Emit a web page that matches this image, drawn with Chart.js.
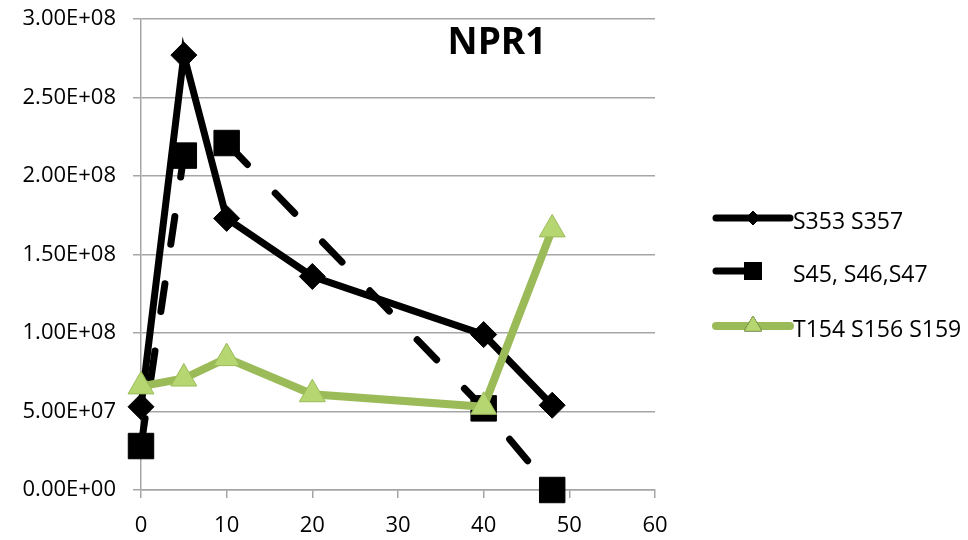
<!DOCTYPE html>
<html>
<head>
<meta charset="utf-8">
<script src="https://cdn.jsdelivr.net/npm/chart.js@4/dist/chart.umd.min.js"></script>
<style>
  html, body { margin: 0; padding: 0; background: #fff; }
  #wrap { width: 968px; height: 540px; }
</style>
</head>
<body>
<div id="wrap"><canvas id="nprCanvas" width="968" height="540"></canvas></div>
<script>
/* NPR1 - three phospho-site series over time */

const timesA = [0, 5, 10, 20, 40, 48];
const timesB = [0, 5, 10, 40, 48];
const timesC = [0, 5, 10, 20, 40, 48];

const s353 = [53e6, 277e6, 173e6, 136e6, 99e6, 54e6];
const s45 = [28e6, 213e6, 221e6, 52e6, 0];
const t154 = [66e6, 71e6, 84e6, 61e6, 53e6, 166e6];

const seriesNames = ['S353 S357', 'S45, S46,S47', 'T154 S156 S159'];
const chartTitle = 'NPR1';

const FONT = '"Open Sans", Lato, sans-serif';
const GRID = '#a6a6a6';
const GREEN = '#9bbb59';
const GREEN_FILL = '#b6d672';

const toPts = (xs, ys) => xs.map((x, i) => ({x: x, y: ys[i]}));

// Excel style exponent label, e.g. 3.00E+08
function sciLabel(v) {
  const parts = Number(v).toExponential(2).split('e');
  let exp = parseInt(parts[1], 10);
  const sign = exp < 0 ? '-' : '+';
  exp = Math.abs(exp);
  return parts[0] + 'E' + sign + (exp < 10 ? '0' + exp : exp);
}

/* title inside plot + legend on the right */
const decorPlugin = {
  id: 'decor',
  afterDraw(chart) {
    const ctx = chart.ctx;
    const area = chart.chartArea;
    ctx.save();
    ctx.fillStyle = '#000';
    ctx.font = 'bold 37px ' + FONT;
    ctx.textAlign = 'center';
    ctx.textBaseline = 'middle';
    ctx.fillText(chartTitle, area.left + 356, area.top + 24);

    const lx = area.right + 61;
    const rows = [area.top + 203, area.top + 256, area.top + 311];
    ctx.font = '23px ' + FONT;
    ctx.textAlign = 'left';
    chart.data.datasets.forEach((ds, i) => {
      const y = rows[i];
      const dashed = !!ds.borderDash;
      ctx.save();
      ctx.strokeStyle = ds.borderColor;
      ctx.lineWidth = ds.borderWidth;
      ctx.lineCap = 'round';
      ctx.beginPath();
      ctx.moveTo(lx, y - 4);
      ctx.lineTo(dashed ? lx + 30 : lx + 74, y - 4);
      ctx.stroke();
      ctx.restore();
      Chart.helpers.drawPoint(ctx, {
        pointStyle: ds.pointStyle,
        radius: dashed ? 12 : (ds.pointStyle === 'triangle' ? 10 : 7),
        borderWidth: 1
      }, lx + 37, y - 4);
      ctx.fillStyle = ds.pointBackgroundColor;
      ctx.strokeStyle = ds.pointBorderColor;
      ctx.fill();
      ctx.stroke();
      ctx.fillStyle = '#000';
      ctx.fillText(seriesNames[i], lx + 77, y);
    });
    ctx.restore();
  }
};

new Chart(document.getElementById('nprCanvas'), {
  type: 'line',
  data: {
    datasets: [
      {
        data: toPts(timesA, s353),
        borderColor: '#000',
        borderWidth: 7,
        pointStyle: 'rectRot',
        pointRadius: 13,
        pointBackgroundColor: '#000',
        pointBorderColor: '#000',
        pointBorderWidth: 1,
        order: 1,
        clip: false
      },
      {
        data: toPts(timesB, s45),
        borderColor: '#000',
        borderWidth: 7,
        borderDash: [28, 40],
        borderCapStyle: 'round',
        pointStyle: 'rect',
        pointRadius: 18,
        pointBackgroundColor: '#000',
        pointBorderColor: '#000',
        pointBorderWidth: 1,
        order: 2,
        clip: false
      },
      {
        data: toPts(timesC, t154),
        borderColor: GREEN,
        borderWidth: 8,
        pointStyle: 'triangle',
        pointRadius: 15,
        pointBackgroundColor: GREEN_FILL,
        pointBorderColor: GREEN,
        pointBorderWidth: 1,
        order: 0,
        clip: false
      }
    ]
  },
  options: {
    responsive: false,
    animation: false,
    layout: { padding: { left: 0, right: 313, top: 16, bottom: 0 } },
    plugins: {
      legend: { display: false },
      tooltip: { enabled: false },
      title: { display: false }
    },
    elements: { line: { tension: 0 } },
    scales: {
      x: {
        type: 'linear',
        min: 0,
        max: 60,
        ticks: { stepSize: 10, color: '#000', font: { family: FONT, size: 22 }, padding: 15 },
        grid: { color: GRID, lineWidth: 1.5, drawOnChartArea: false, drawTicks: true, tickLength: 8 },
        border: { color: GRID, width: 1.5 },
        afterFit: s => { s.height = 50; s.paddingLeft = 0; s.paddingRight = 0; }
      },
      y: {
        min: 0,
        max: 3e8,
        ticks: { stepSize: 5e7, color: '#000', font: { family: FONT, size: 22 }, padding: 17,
                 callback: v => sciLabel(v) },
        grid: { color: GRID, lineWidth: 1.5, tickLength: 8 },
        border: { color: GRID, width: 1.5 },
        afterFit: s => { s.width = 141; s.paddingTop = 0; s.paddingBottom = 0; }
      }
    }
  },
  plugins: [decorPlugin]
});
</script>
</body>
</html>
